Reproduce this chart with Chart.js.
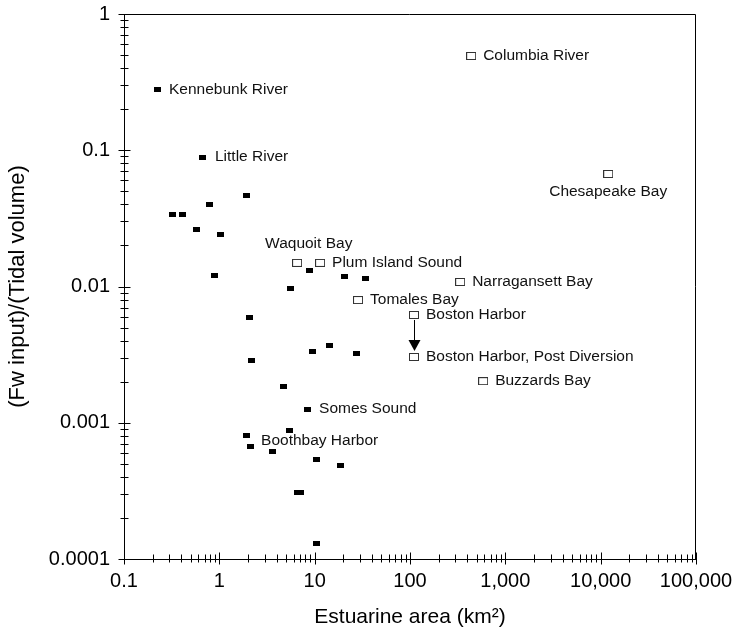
<!DOCTYPE html>
<html>
<head>
<meta charset="utf-8">
<script src="https://cdn.jsdelivr.net/npm/chart.js@4.4.0/dist/chart.umd.min.js"></script>
<style>
  html, body { margin: 0; padding: 0; background: #fff; }
  #wrap { width: 736px; height: 630px; }
</style>
</head>
<body>
<div id="wrap"><canvas id="estuaryChart" width="736" height="630"></canvas></div>
<script>
// small estuaries (filled marks)
var filledArea  = [0.222, 0.674, 1.95, 0.78, 0.319, 0.407, 0.57, 1.02, 0.90, 8.74, 20.8, 33.8, 5.52, 2.05, 2.2, 9.4, 14.2, 27.2, 4.66, 8.32, 5.39, 1.95, 2.1, 3.57, 10.35, 18.5, 6.54, 7.03, 10.35];
var filledRatio = [0.277, 0.0892, 0.0462, 0.0397, 0.0335, 0.0335, 0.026, 0.0239, 0.0121, 0.0130, 0.0119, 0.0115, 0.0096, 0.00597, 0.00284, 0.00336, 0.00366, 0.0032, 0.00186, 0.00126, 0.00087, 0.0008, 0.000675, 0.00061, 0.000533, 0.000482, 0.00031, 0.00031, 0.000131];
var filledNames = ['Kennebunk River', 'Little River', '', '', '', '', '', '', '', '', '', '', '', '', '', '', '', '', '', 'Somes Sound', '', '', 'Boothbay Harbor', '', '', '', '', '', ''];

// larger systems (open marks)
var openNames = ['Columbia River', 'Chesapeake Bay', 'Waquoit Bay', 'Plum Island Sound', 'Narragansett Bay', 'Tomales Bay', 'Boston Harbor', 'Boston Harbor, Post Diversion', 'Buzzards Bay'];
var openArea  = [438, 12000, 6.54, 11.4, 336, 28.5, 110, 110, 585];
var openRatio = [0.492, 0.067, 0.0149, 0.0149, 0.0108, 0.00796, 0.00618, 0.00304, 0.00202];

var arrowFrom = 'Boston Harbor';
var arrowTo = 'Boston Harbor, Post Diversion';

var xTickLabels = ['0.1', '1', '10', '100', '1,000', '10,000', '100,000'];
var yTickLabels = ['0.0001', '0.001', '0.01', '0.1', '1'];

var fontFamily = '"Liberation Sans", Arial, sans-serif';

// label offsets from the mark, default is just to the right
var labelPlace = {
    'Waquoit Bay': {dx: -32, dy: -19, align: 'left'},
    'Chesapeake Bay': {dx: 0, dy: 18, align: 'center'},
    'Boothbay Harbor': {dx: 11, dy: -5, align: 'left'}
};

function logTicks(min, max, labels) {
    var ticks = [];
    var lo = Math.round(Math.log10(min)), hi = Math.round(Math.log10(max));
    for (var e = lo; e <= hi; e++) {
        var base = Math.pow(10, e);
        ticks.push({value: base, name: labels[e - lo]});
        if (e == hi) break;
        for (var m = 2; m <= 9; m++) {
            ticks.push({value: m * base, name: ''});
        }
    }
    return ticks;
}

function makeMark(w, h, filled) {
    var c = document.createElement('canvas');
    c.width = w;
    c.height = h;
    var g = c.getContext('2d');
    if (filled) {
        g.fillStyle = '#000';
        g.fillRect(0, 0, w, h);
    } else {
        g.fillStyle = '#fff';
        g.fillRect(0, 0, w, h);
        g.strokeStyle = '#333';
        g.lineWidth = 1;
        g.strokeRect(0.5, 0.5, w - 1, h - 1);
    }
    return c;
}

var filledMark = makeMark(7, 5, true);
var openMark = makeMark(10, 8, false);

var decorPlugin = {
    id: 'decor',
    afterDraw: function (chart) {
        var ctx = chart.ctx;
        var a = chart.chartArea;
        var xs = chart.scales.x, ys = chart.scales.y;
        ctx.save();
        ctx.strokeStyle = '#000';
        ctx.lineWidth = 1;

        // top and right of the frame
        var t = Math.round(a.top) + 0.5, r = Math.round(a.right) - 0.5;
        ctx.beginPath();
        ctx.moveTo(Math.round(a.left), t);
        ctx.lineTo(r, t);
        ctx.lineTo(r, Math.round(a.bottom));
        ctx.stroke();

        // tick marks crossing the axes
        var bx = Math.round(a.bottom) - 0.5;
        ctx.beginPath();
        xs.ticks.forEach(function (tk) {
            var px = Math.round(xs.getPixelForValue(tk.value)) + 0.5;
            var len = tk.name ? 6 : 4;
            ctx.moveTo(px, bx - len);
            ctx.lineTo(px, bx + len);
        });
        var lx = Math.round(a.left) + 0.5;
        ys.ticks.forEach(function (tk) {
            var py = Math.round(ys.getPixelForValue(tk.value)) + 0.5;
            var len = tk.name ? 6 : 4;
            ctx.moveTo(lx - len, py);
            ctx.lineTo(lx + len, py);
        });
        ctx.stroke();

        // names beside marks
        ctx.fillStyle = '#111';
        ctx.font = '15.5px ' + fontFamily;
        ctx.textBaseline = 'middle';
        function putName(name, xv, yv) {
            if (!name) return;
            var p = labelPlace[name] || {dx: 12, dy: 0, align: 'left'};
            ctx.textAlign = p.align;
            ctx.fillText(name, xs.getPixelForValue(xv) + p.dx, ys.getPixelForValue(yv) + p.dy);
        }
        for (var i = 0; i < filledNames.length; i++) {
            putName(filledNames[i], filledArea[i], filledRatio[i]);
        }
        for (var j = 0; j < openNames.length; j++) {
            putName(openNames[j], openArea[j], openRatio[j]);
        }

        // arrow for the diversion
        var f = openNames.indexOf(arrowFrom), to = openNames.indexOf(arrowTo);
        var ax = Math.round(xs.getPixelForValue(openArea[f])) + 0.5;
        var y0 = ys.getPixelForValue(openRatio[f]) + 5;
        var y1 = ys.getPixelForValue(openRatio[to]) - 6;
        ctx.beginPath();
        ctx.moveTo(ax, y0);
        ctx.lineTo(ax, y1 - 10);
        ctx.stroke();
        ctx.fillStyle = '#000';
        ctx.beginPath();
        ctx.moveTo(ax - 6, y1 - 11);
        ctx.lineTo(ax + 6, y1 - 11);
        ctx.lineTo(ax, y1);
        ctx.closePath();
        ctx.fill();
        ctx.restore();
    }
};

var filledData = filledArea.map(function (v, i) { return {x: v, y: filledRatio[i]}; });
var openData = openArea.map(function (v, i) { return {x: v, y: openRatio[i]}; });

var area = document.getElementById('estuaryChart').getContext('2d');
var estuaryChart = new Chart(area, {
    type: 'scatter',
    data: {
        datasets: [{
            label: 'Small estuaries',
            data: filledData,
            pointStyle: filledMark,
            pointRadius: 4,
            pointHoverRadius: 4
        }, {
            label: 'Large systems',
            data: openData,
            pointStyle: openMark,
            pointRadius: 5,
            pointHoverRadius: 5
        }]
    },
    options: {
        responsive: false,
        animation: false,
        devicePixelRatio: 1,
        layout: {
            padding: {left: 0, top: 14, right: 40, bottom: 0}
        },
        plugins: {
            legend: {display: false},
            tooltip: {enabled: false}
        },
        scales: {
            x: {
                type: 'logarithmic',
                position: 'bottom',
                min: 0.1,
                max: 100000,
                afterBuildTicks: function (s) { s.ticks = logTicks(0.1, 100000, xTickLabels); },
                afterFit: function (s) {
                    s.height = 71;
                    s.paddingLeft = 0;
                    s.paddingRight = 0;
                },
                grid: {display: false, drawTicks: false},
                border: {display: true, color: '#000', width: 1},
                ticks: {
                    autoSkip: false,
                    maxRotation: 0,
                    padding: 10,
                    color: '#000',
                    font: {family: fontFamily, size: 20},
                    callback: function (v, i, t) { return t[i] && t[i].name ? t[i].name : ''; }
                },
                title: {
                    display: true,
                    text: 'Estuarine area (km²)',
                    color: '#000',
                    font: {family: fontFamily, size: 21},
                    padding: {top: 0, bottom: 0}
                }
            },
            y: {
                type: 'logarithmic',
                position: 'left',
                min: 0.0001,
                max: 1,
                afterBuildTicks: function (s) { s.ticks = logTicks(0.0001, 1, yTickLabels); },
                afterFit: function (s) {
                    s.width = 124;
                    s.paddingTop = 0;
                    s.paddingBottom = 0;
                },
                grid: {display: false, drawTicks: false},
                border: {display: true, color: '#000', width: 1},
                ticks: {
                    autoSkip: false,
                    padding: 14,
                    color: '#000',
                    font: {family: fontFamily, size: 20},
                    callback: function (v, i, t) { return t[i] && t[i].name ? t[i].name : ''; }
                },
                title: {
                    display: true,
                    text: '(Fw input)/(Tidal volume)',
                    color: '#000',
                    font: {family: fontFamily, size: 22},
                    padding: {top: 5, bottom: 0}
                }
            }
        }
    },
    plugins: [decorPlugin]
});
</script>
</body>
</html>
